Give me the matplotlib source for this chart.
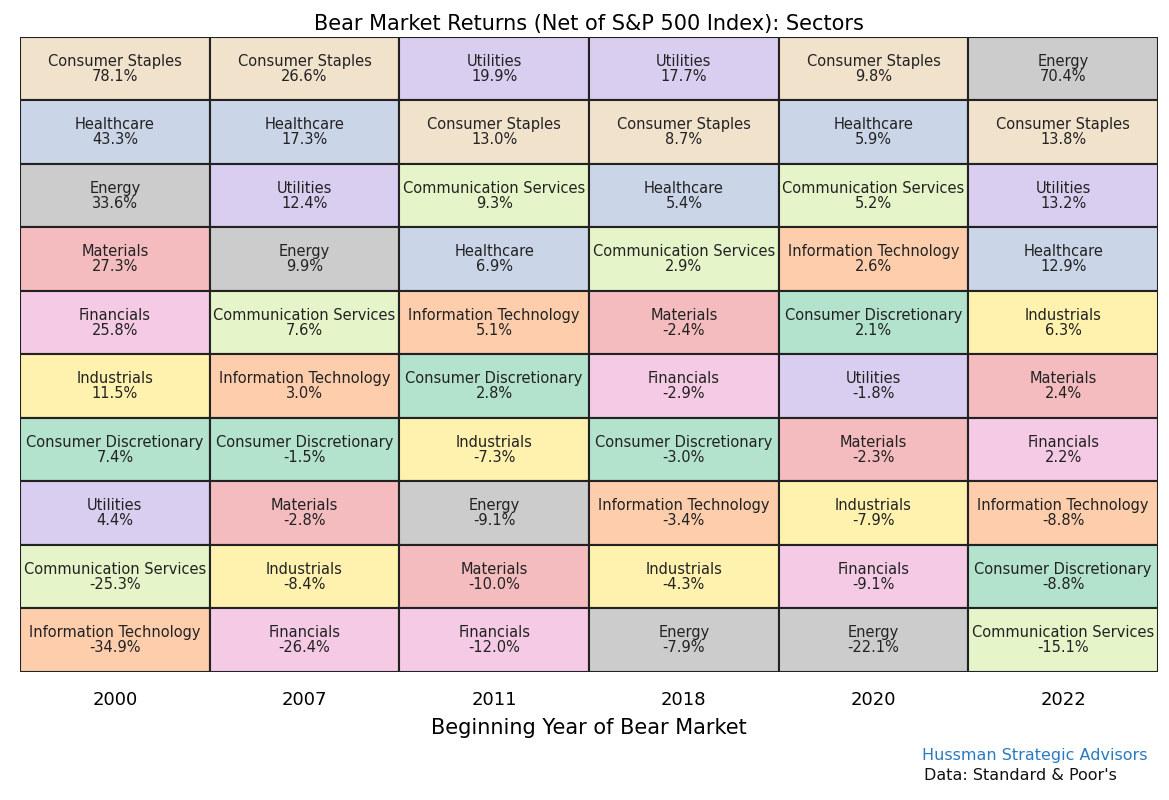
import matplotlib.pyplot as plt
from matplotlib.patches import Rectangle

years = ['2000', '2007', '2011', '2018', '2020', '2022']

sectors_2000 = ['Consumer Staples', 'Healthcare', 'Energy', 'Materials', 'Financials', 'Industrials',
                'Consumer Discretionary', 'Utilities', 'Communication Services', 'Information Technology']
returns_2000 = [78.1, 43.3, 33.6, 27.3, 25.8, 11.5, 7.4, 4.4, -25.3, -34.9]

sectors_2007 = ['Consumer Staples', 'Healthcare', 'Utilities', 'Energy', 'Communication Services',
                'Information Technology', 'Consumer Discretionary', 'Materials', 'Industrials', 'Financials']
returns_2007 = [26.6, 17.3, 12.4, 9.9, 7.6, 3.0, -1.5, -2.8, -8.4, -26.4]

sectors_2011 = ['Utilities', 'Consumer Staples', 'Communication Services', 'Healthcare', 'Information Technology',
                'Consumer Discretionary', 'Industrials', 'Energy', 'Materials', 'Financials']
returns_2011 = [19.9, 13.0, 9.3, 6.9, 5.1, 2.8, -7.3, -9.1, -10.0, -12.0]

sectors_2018 = ['Utilities', 'Consumer Staples', 'Healthcare', 'Communication Services', 'Materials',
                'Financials', 'Consumer Discretionary', 'Information Technology', 'Industrials', 'Energy']
returns_2018 = [17.7, 8.7, 5.4, 2.9, -2.4, -2.9, -3.0, -3.4, -4.3, -7.9]

sectors_2020 = ['Consumer Staples', 'Healthcare', 'Communication Services', 'Information Technology',
                'Consumer Discretionary', 'Utilities', 'Materials', 'Industrials', 'Financials', 'Energy']
returns_2020 = [9.8, 5.9, 5.2, 2.6, 2.1, -1.8, -2.3, -7.9, -9.1, -22.1]

sectors_2022 = ['Energy', 'Consumer Staples', 'Utilities', 'Healthcare', 'Industrials', 'Materials',
                'Financials', 'Information Technology', 'Consumer Discretionary', 'Communication Services']
returns_2022 = [70.4, 13.8, 13.2, 12.9, 6.3, 2.4, 2.2, -8.8, -8.8, -15.1]

all_sectors = [sectors_2000, sectors_2007, sectors_2011, sectors_2018, sectors_2020, sectors_2022]
all_returns = [returns_2000, returns_2007, returns_2011, returns_2018, returns_2020, returns_2022]

colors = {
    'Consumer Staples': '#f1e2cc',
    'Healthcare': '#cbd5e8',
    'Energy': '#cccccc',
    'Materials': '#f4bcbf',
    'Financials': '#f4cae4',
    'Industrials': '#fff2ae',
    'Consumer Discretionary': '#b3e2cd',
    'Utilities': '#d9cdf0',
    'Communication Services': '#e6f5c9',
    'Information Technology': '#fdcdac',
}

fig = plt.figure(figsize=(11.69, 8), dpi=100)
ax = fig.add_axes([0.0171, 0.16, 0.9735, 0.794])

n_rows = len(sectors_2000)
for c, (secs, rets) in enumerate(zip(all_sectors, all_returns)):
    for r, (s, v) in enumerate(zip(secs, rets)):
        ax.add_patch(Rectangle((c, r), 1, 1, facecolor=colors[s], edgecolor='#222222', linewidth=1.5))
        ax.text(c + 0.5, r + 0.5, f'{s}\n{v:.1f}%', ha='center', va='center',
                fontsize=10.5, color='#222222', linespacing=1.0)

ax.set_xlim(0, len(years))
ax.set_ylim(n_rows, 0)
ax.set_xticks([i + 0.5 for i in range(len(years))])
ax.set_xticklabels(years, fontsize=13)
ax.tick_params(axis='x', length=0, pad=14)
ax.set_yticks([])
for sp in ax.spines.values():
    sp.set_visible(False)
ax.set_xlabel('Beginning Year of Bear Market', fontsize=15, labelpad=6)
ax.set_title('Bear Market Returns (Net of S&P 500 Index): Sectors', fontsize=15, pad=5)

fig.text(0.982, 0.056, 'Hussman Strategic Advisors', ha='right', va='center', fontsize=11.5, color='#2a7ac0')
fig.text(0.955, 0.031, "Data: Standard & Poor's", ha='right', va='center', fontsize=11.5, color='#111111')

fig.savefig('out.png', dpi=100)
